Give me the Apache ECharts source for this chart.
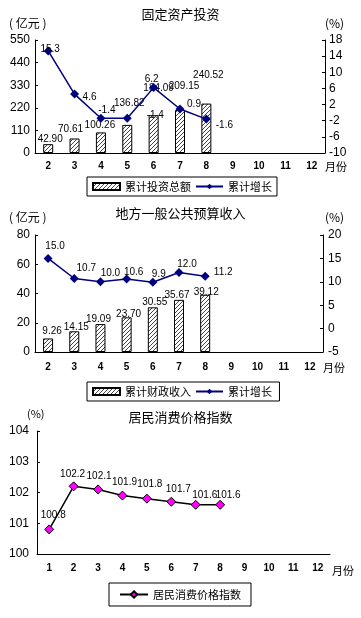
<!DOCTYPE html>
<html>
<head>
<meta charset="utf-8">
<script src="https://cdn.jsdelivr.net/npm/echarts@6/dist/echarts.min.js"></script>
<style>
html,body{margin:0;padding:0;background:#fff;}
#c{width:361px;height:618px;}
</style>
</head>
<body>
<div id="c"></div>
<script>
// ---- data ----
var months1 = ['2','3','4','5','6','7','8','9','10','11','12'];
var invTotal = [42.90, 70.61, 100.26, 136.82, 184.09, 209.15, 240.52];
var invGrowth = [15.3, 4.6, -1.4, -1.4, 6.2, 0.9, -1.6];

var months2 = ['2','3','4','5','6','7','8','9','10','11','12'];
var revTotal = [9.26, 14.15, 19.09, 23.70, 30.55, 35.67, 39.12];
var revGrowth = [15.0, 10.7, 10.0, 10.6, 9.9, 12.0, 11.2];

var months3 = ['1','2','3','4','5','6','7','8','9','10','11','12'];
var cpi = [100.8, 102.2, 102.1, 101.9, 101.8, 101.7, 101.6, 101.6];

// label offsets (style only)
var invTotalOff = [[2,0],[-4,-4],[-1,-2],[2,-17],[5,-22],[4,-19],[2,-23]];
var invGrowthOff = [[2,-2],[15,3],[6,-8],[28,-3],[-2,-8],[14,-5],[18,6]];
var revTotalOff = [[4,-2],[2,1],[-2,0],[2,2],[2,0],[-2,0],[1,2]];
var revGrowthOff = [[7,-12],[12,-10],[10,-9],[7,-7],[6,-8],[8,-8],[18,-4]];
var cpiOff = [[4,-14],[-1,-12],[1,-13],[2,-13],[3,-14],[7,-12],[9,-10],[8,-10]];

// hatch pattern
var cv = document.createElement('canvas');
cv.width = 4; cv.height = 4;
var cx = cv.getContext('2d');
cx.fillStyle = '#fff'; cx.fillRect(0,0,4,4);
cx.fillStyle = '#444';
for (var i = 0; i < 4; i++) cx.fillRect(i, 3 - i, 1, 1);
var hatch = {image: cv, repeat: 'repeat'};

var NUM = 'Liberation Sans, Arial, sans-serif';
var CJK = '"Noto Sans CJK SC", sans-serif';

function xAx(idx, data, margin) {
  return {
    type: 'category', gridIndex: idx, data: data, boundaryGap: true,
    axisLine: {lineStyle: {color: '#000', width: 1}},
    axisTick: {inside: true, length: 3, lineStyle: {color: '#000'}},
    axisLabel: {color: '#000', fontSize: 10, fontWeight: 'bold', fontFamily: NUM, margin: margin, interval: 0},
    splitLine: {show: false}
  };
}
function yAx(idx, pos, min, max, interval, margin) {
  return {
    type: 'value', gridIndex: idx, position: pos, min: min, max: max, interval: interval,
    axisLine: {show: true, lineStyle: {color: '#000', width: 1}},
    axisTick: {show: true, inside: true, length: 3, lineStyle: {color: '#000'}},
    axisLabel: {color: '#000', fontSize: 12, fontFamily: NUM, margin: margin},
    splitLine: {show: false}
  };
}
function withOff(vals, offs) {
  return vals.map(function (v, i) {
    return {value: v, label: {offset: offs[i]}};
  });
}
function txt(x, y, s, size) {
  return {type: 'text', left: x, top: y, style: {text: s, fontSize: size || 12, fontFamily: CJK, fill: '#000'}};
}
var titleStyle = {fontSize: 13, fontWeight: 'normal', color: '#000', fontFamily: CJK};

var chart = echarts.init(document.getElementById('c'), null, {renderer: 'canvas'});
var option = {
  backgroundColor: '#fff',
  animation: false,
  title: [
    {text: '固定资产投资', left: 'center', top: 8, textStyle: titleStyle, padding: 0},
    {text: '地方一般公共预算收入', left: 'center', top: 207, textStyle: titleStyle, padding: 0},
    {text: '居民消费价格指数', left: 'center', top: 411, textStyle: titleStyle, padding: 0}
  ],
  graphic: [
    txt(9, 17, '( 亿元 )', 12),
    txt(325, 17, '(%)', 12),
    txt(325, 161, '月份', 11),
    txt(9, 211, '( 亿元 )', 12),
    txt(325, 211, '(%)', 12),
    txt(323, 362, '月份', 11),
    txt(27, 408, '(%)', 11),
    txt(332, 565, '月份', 11)
  ],
  grid: [
    {left: 35, right: 36, top: 40, height: 113},
    {left: 35, right: 38, top: 235, height: 117},
    {left: 37, right: 31, top: 431, height: 123}
  ],
  legend: [
    {left: 87, top: 177, padding: [4, 5], itemWidth: 27, itemHeight: 7, itemGap: 4,
     borderColor: '#000', borderWidth: 1,
     textStyle: {fontSize: 11, fontFamily: CJK, color: '#000'},
     data: [{name: '累计投资总额', icon: 'rect'}, {name: '累计增长'}]},
    {left: 87, top: 382, padding: [4, 5], itemWidth: 27, itemHeight: 7, itemGap: 4,
     borderColor: '#000', borderWidth: 1,
     textStyle: {fontSize: 11, fontFamily: CJK, color: '#000'},
     data: [{name: '累计财政收入', icon: 'rect'}, {name: '累计增长 '}]},
    {left: 109, top: 583, padding: [6, 10], itemWidth: 28, itemHeight: 8, itemGap: 5,
     borderColor: '#000', borderWidth: 1,
     textStyle: {fontSize: 11, fontFamily: CJK, color: '#000'},
     data: [{name: '居民消费价格指数'}]}
  ],
  xAxis: [xAx(0, months1, 8), xAx(1, months2, 10), xAx(2, months3, 9)],
  yAxis: [
    yAx(0, 'left', 0, 550, 110, 5),
    yAx(0, 'right', -10, 18, 4, 4),
    yAx(1, 'left', 0, 80, 20, 5),
    yAx(1, 'right', -5, 20, 5, 5),
    yAx(2, 'left', 100, 104, 1, 8)
  ],
  series: [
    {name: '累计投资总额', type: 'bar', xAxisIndex: 0, yAxisIndex: 0, barWidth: 10,
     itemStyle: {color: hatch, borderColor: '#000', borderWidth: 1},
     label: {show: true, position: 'top', distance: 0, fontSize: 10, fontFamily: NUM, color: '#000',
             formatter: function (p) { return p.value.toFixed(2); }},
     data: withOff(invTotal, invTotalOff)},
    {name: '累计增长', type: 'line', xAxisIndex: 0, yAxisIndex: 1, symbol: 'diamond', symbolSize: 9,
     lineStyle: {color: '#000080', width: 1.5}, itemStyle: {color: '#000080'},
     label: {show: true, position: 'inside', fontSize: 10, fontFamily: NUM, color: '#000',
             formatter: function (p) { return p.value.toFixed(1); }},
     data: withOff(invGrowth, invGrowthOff)},
    {name: '累计财政收入', type: 'bar', xAxisIndex: 1, yAxisIndex: 2, barWidth: 10,
     itemStyle: {color: hatch, borderColor: '#000', borderWidth: 1},
     label: {show: true, position: 'top', distance: 0, fontSize: 10, fontFamily: NUM, color: '#000',
             formatter: function (p) { return p.value.toFixed(2); }},
     data: withOff(revTotal, revTotalOff)},
    {name: '累计增长 ', type: 'line', xAxisIndex: 1, yAxisIndex: 3, symbol: 'diamond', symbolSize: 9,
     lineStyle: {color: '#000080', width: 1.5}, itemStyle: {color: '#000080'},
     label: {show: true, position: 'inside', fontSize: 10, fontFamily: NUM, color: '#000',
             formatter: function (p) { return p.value.toFixed(1); }},
     data: withOff(revGrowth, revGrowthOff)},
    {name: '居民消费价格指数', type: 'line', xAxisIndex: 2, yAxisIndex: 4, symbol: 'diamond', symbolSize: 9,
     lineStyle: {color: '#000', width: 1.5}, itemStyle: {color: '#ff00ff', borderColor: '#000', borderWidth: 1},
     label: {show: true, position: 'inside', fontSize: 10, fontFamily: NUM, color: '#000',
             formatter: function (p) { return p.value.toFixed(1); }},
     data: withOff(cpi, cpiOff)}
  ]
};
chart.setOption(option);
</script>
</body>
</html>
